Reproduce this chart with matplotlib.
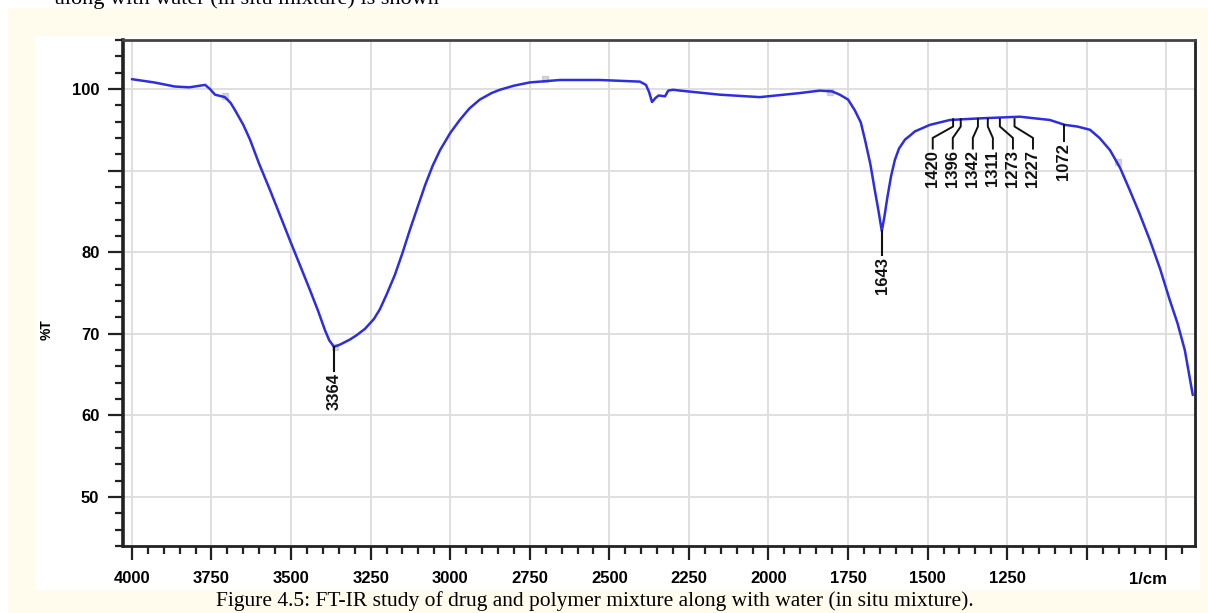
import matplotlib.pyplot as plt
from matplotlib.patches import Rectangle
from matplotlib.ticker import MultipleLocator, FixedLocator

# ── data ─────────────────────────────────────────────────────────────────────
wavenumber = [4000, 3930, 3865, 3820, 3786, 3770, 3755, 3739, 3708, 3690,
              3676, 3650, 3629, 3600, 3566, 3504, 3441, 3415, 3394, 3380,
              3365, 3345, 3315, 3295, 3268, 3240, 3221, 3200, 3174, 3150,
              3127, 3100, 3079, 3055, 3032, 3000, 2970, 2940, 2907, 2870,
              2844, 2800, 2750, 2655, 2530, 2404, 2385, 2375, 2366, 2355,
              2345, 2325, 2315, 2300, 2278, 2153, 2027, 1901, 1839, 1800,
              1776, 1750, 1729, 1710, 1697, 1680, 1666, 1655, 1644, 1636,
              1627, 1615, 1603, 1590, 1571, 1555, 1540, 1493, 1430, 1336,
              1210, 1116, 1069, 1030, 990, 960, 927, 895, 865, 835,
              802, 770, 739, 715, 692, 667]
transmittance = [101.2, 100.8, 100.3, 100.2, 100.4, 100.5, 100.0, 99.3, 99.0, 98.3,
                 97.4, 95.6, 93.8, 90.8, 87.6, 81.5, 75.4, 72.8, 70.5, 69.2,
                 68.4, 68.7, 69.3, 69.8, 70.6, 71.8, 73.0, 74.8, 77.2, 79.9,
                 82.7, 85.8, 88.2, 90.6, 92.5, 94.6, 96.2, 97.6, 98.7, 99.5,
                 99.9, 100.4, 100.8, 101.1, 101.1, 100.9, 100.5, 99.6, 98.4, 98.9,
                 99.2, 99.1, 99.8, 99.9, 99.8, 99.3, 99.0, 99.5, 99.8, 99.7,
                 99.3, 98.7, 97.4, 95.9, 93.8, 90.8, 87.6, 85.2, 82.6, 84.3,
                 86.6, 89.3, 91.3, 92.7, 93.8, 94.3, 94.8, 95.6, 96.2, 96.4,
                 96.6, 96.2, 95.6, 95.4, 95.0, 94.0, 92.5, 90.3, 87.6, 84.8,
                 81.5, 78.0, 74.1, 71.3, 68.0, 62.5]

# isolated peaks (straight leader)
big_peaks = [3364, 1643]
big_peak_t = [68.4, 82.6]

# crowded fingerprint peaks (bent leaders)
cluster_peaks = [1420, 1396, 1342, 1311, 1273, 1227]
cluster_t = 96.3
single_peak = 1072
single_t = 95.6

# faint peak-pick markers
marker_wn = [3708, 2702, 1807, 3362, 902]
marker_t = [99.1, 101.2, 99.6, 68.4, 91.0]

x_ticks = [4000, 3750, 3500, 3250, 3000, 2750, 2500, 2250, 2000, 1750, 1500, 1250, 1000, 750]
x_labels = ["4000", "3750", "3500", "3250", "3000", "2750", "2500", "2250",
            "2000", "1750", "1500", "1250", "", ""]
y_ticks = [50, 60, 70, 80, 90, 100]
y_labels = ["50", "60", "70", "80", "", "100"]

# ── figure / page background ─────────────────────────────────────────────────
W, H = 1208, 613
fig = plt.figure(figsize=(W / 100, H / 100), dpi=100, facecolor="#fffcee")

for rect in [((0, 1 - 8 / H), 1, 8 / H),
             ((0, 0), 8 / W, 1),
             ((35 / W, 1 - 590 / H), 1165 / W, 554 / H)]:
    fig.patches.append(Rectangle(*rect, transform=fig.transFigure,
                                 fc="white", ec="none", zorder=-10))

# previous paragraph line, cut by the top edge as in the source page
fig.text(55 / W, 1 - 4 / H, "along with water (in situ mixture) is shown",
         family="Liberation Serif", fontsize=16, va="baseline", ha="left")
fig.text(595 / W, 1 - 601 / H,
         "Figure 4.5: FT-IR study of drug and polymer mixture along with water (in situ mixture).",
         family="Liberation Serif", fontsize=15.5, ha="center", va="center")

# ── axes ─────────────────────────────────────────────────────────────────────
ax = fig.add_axes([123 / W, 1 - 546 / H, (1195 - 123) / W, (546 - 40) / H])
ax.set_facecolor("white")

ax.plot(wavenumber, transmittance, color="#2e2ee0", linewidth=1.8, zorder=3,
        solid_joinstyle="round", solid_capstyle="round")
ax.plot(marker_wn, marker_t, "s", color="#b0b0b0", markersize=4, alpha=0.5,
        zorder=2, linestyle="none")

ax.set_xlim(4028, 660)
ax.set_ylim(44.0, 106.0)

ax.xaxis.set_major_locator(FixedLocator(x_ticks))
ax.set_xticklabels(x_labels)
ax.xaxis.set_minor_locator(MultipleLocator(50))
ax.yaxis.set_major_locator(FixedLocator(y_ticks))
ax.set_yticklabels(y_labels)
ax.yaxis.set_minor_locator(MultipleLocator(2))

ax.tick_params(axis="both", which="major", direction="out", width=1.6,
               color="#222222", labelsize=12)
ax.tick_params(axis="x", which="major", length=10, pad=8)
ax.tick_params(axis="x", which="minor", length=6, width=1.6, color="#222222")
ax.tick_params(axis="y", which="major", length=11, pad=6)
ax.tick_params(axis="y", which="minor", length=6, width=1.6, color="#222222")
for lab in ax.get_xticklabels() + ax.get_yticklabels():
    lab.set_fontfamily("Liberation Sans")
    lab.set_fontweight("bold")

ax.grid(True, which="major", color="#dcdcdc", linewidth=1.3, zorder=0)
ax.set_axisbelow(True)

for side, sp in ax.spines.items():
    sp.set_linewidth(2.0)
    sp.set_color("#222222")
ax.spines["left"].set_linewidth(2.6)
ax.spines["top"].set_color("#444444")

fig.text(1148 / W, 1 - 579 / H, "1/cm", family="Liberation Sans",
         fontweight="bold", fontsize=12, ha="center", va="center")
fig.text(47 / W, 1 - 330 / H, "%T", family="Liberation Sans",
         fontweight="bold", fontsize=10, rotation=90, ha="center", va="center")

lab_kw = dict(family="Liberation Sans", fontweight="bold", rotation=90,
              ha="center", va="top", color="#111111")

# straight leaders for big peaks
for wn, t in zip(big_peaks, big_peak_t):
    ax.plot([wn, wn], [t, t - 3.0], color="#111111", linewidth=1.5, zorder=4)
    ax.text(wn, t - 3.2, str(wn), fontsize=12, **lab_kw)

# bent leaders for the crowded fingerprint peaks
for i, wn in enumerate(cluster_peaks):
    tx = 1484 - 63 * i
    ax.plot([wn, wn, tx, tx],
            [cluster_t, cluster_t - 0.9, cluster_t - 2.3, cluster_t - 3.6],
            color="#111111", linewidth=1.4, zorder=4)
    ax.text(tx, cluster_t - 3.8, str(wn), fontsize=12, **lab_kw)

ax.plot([single_peak, single_peak], [single_t, single_t - 2.0],
        color="#111111", linewidth=1.4, zorder=4)
ax.text(single_peak, single_t - 2.2, str(single_peak), fontsize=12, **lab_kw)

fig.savefig("out.png", dpi=100, facecolor=fig.get_facecolor())
